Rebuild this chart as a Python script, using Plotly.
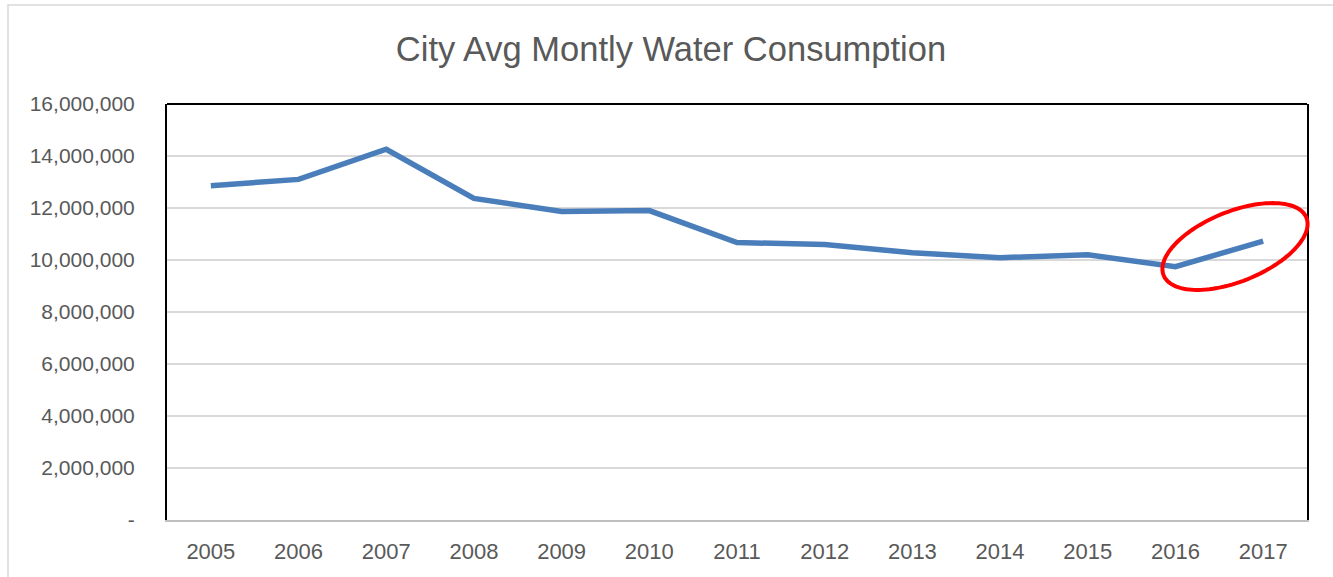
import numpy as np
import plotly.graph_objects as go

years = ["2005", "2006", "2007", "2008", "2009", "2010", "2011",
         "2012", "2013", "2014", "2015", "2016", "2017"]
consumption = [12860000, 13100000, 14260000, 12370000, 11870000, 11900000, 10670000,
               10600000, 10280000, 10090000, 10200000, 9740000, 10730000]
y_tickvals = [0, 2000000, 4000000, 6000000, 8000000, 10000000, 12000000, 14000000, 16000000]
y_ticktext = ["-", "2,000,000", "4,000,000", "6,000,000", "8,000,000",
              "10,000,000", "12,000,000", "14,000,000", "16,000,000"]
title_text = "City Avg Montly Water Consumption"

W, H = 1333, 577
L, R, T, B = 167, 26, 104, 57
pw, ph = W - L - R, H - T - B

def px2paper(x, y):
    return (x - L) / pw, (H - B - y) / ph

FONT = "Liberation Sans, Arial, sans-serif"
TXT = "#595959"

fig = go.Figure()
fig.add_trace(go.Scatter(x=years, y=consumption, mode="lines",
                         line=dict(color="#4a7ebb", width=5.5),
                         hoverinfo="x+y", showlegend=False))

# red highlight ellipse (pixel geometry converted to paper coords)
cx, cy, a, b, ang = 1235, 246.5, 77, 35, np.deg2rad(-22)
t = np.linspace(0, 2 * np.pi, 120)
ex = cx + a * np.cos(t) * np.cos(ang) - b * np.sin(t) * np.sin(ang)
ey = cy + a * np.cos(t) * np.sin(ang) + b * np.sin(t) * np.cos(ang)
pts = [px2paper(x, y) for x, y in zip(ex, ey)]
path = "M " + " L ".join(f"{p[0]:.5f},{p[1]:.5f}" for p in pts) + " Z"

shapes = [
    # outer chart frame
    dict(type="rect", xref="paper", yref="paper",
         x0=px2paper(8, 0)[0], x1=px2paper(1345, 0)[0],
         y0=px2paper(0, 590)[1], y1=px2paper(0, 5)[1],
         line=dict(color="#d9d9d9", width=1.5), layer="below"),
    # top border of plot area
    dict(type="line", xref="paper", yref="paper", x0=0, x1=1, y0=1, y1=1,
         line=dict(color="black", width=2)),
    dict(type="path", xref="paper", yref="paper", path=path,
         line=dict(color="#ff0000", width=4)),
]

fig.update_layout(
    width=W, height=H,
    margin=dict(l=L, r=R, t=T, b=B),
    paper_bgcolor="white", plot_bgcolor="white",
    shapes=shapes,
    title=dict(text=title_text, x=671 / W, xanchor="center", xref="container",
               y=1 - 49 / H, yanchor="middle", yref="container",
               font=dict(family=FONT, size=34.5, color=TXT)),
    xaxis=dict(type="category", range=[-0.5, 12.5], showgrid=False,
               showline=True, linecolor="#bfbfbf", linewidth=2,
               ticks="", tickfont=dict(family=FONT, size=22, color=TXT),
               ticklabelstandoff=11, zeroline=False),
    yaxis=dict(range=[0, 16000000], tickvals=y_tickvals, ticktext=y_ticktext,
               showgrid=True, gridcolor="#d9d9d9", gridwidth=2,
               showline=True, linecolor="black", linewidth=2, mirror=True,
               ticks="", tickfont=dict(family=FONT, size=21, color=TXT),
               ticklabelstandoff=26, zeroline=False),
)

fig.write_html("out.html", config={"displayModeBar": False},
               post_script="document.body.style.margin='0';document.body.style.overflow='hidden';")
